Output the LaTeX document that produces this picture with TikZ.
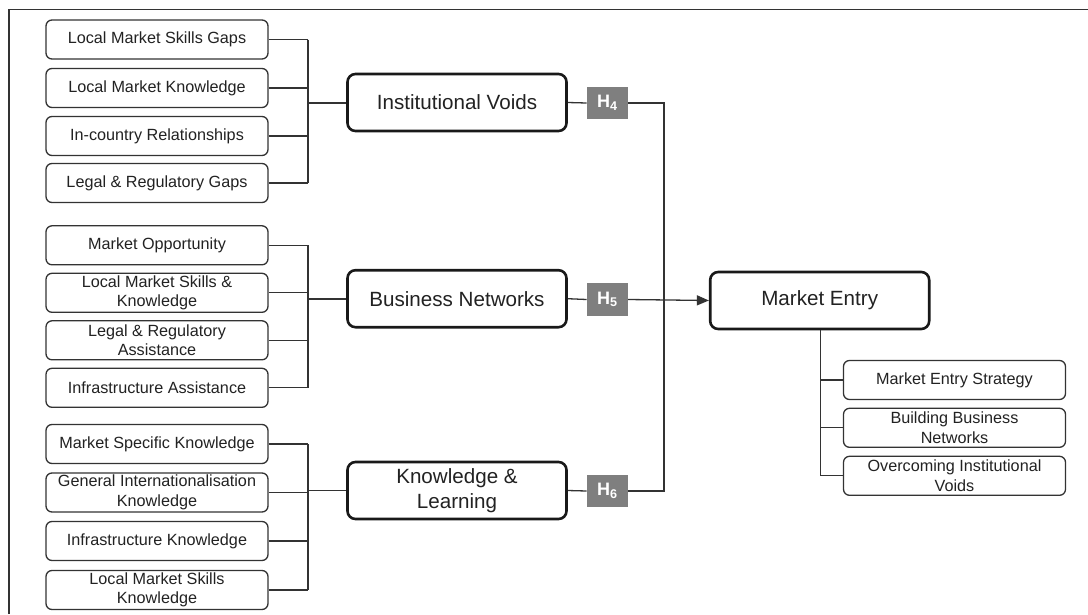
\documentclass[tikz,border=0pt]{standalone}
\usepackage{fontspec}
\setmainfont{Liberation Sans}
\usetikzlibrary{arrows.meta}
\definecolor{ink}{HTML}{222222}
\definecolor{wire}{HTML}{333333}
\definecolor{hbox}{HTML}{7F7F7F}
\tikzset{
  item/.style={draw=wire, line width=1.3pt, rounded corners=6pt, fill=white,
    minimum width=222pt, minimum height=39pt, inner sep=0pt, align=center,
    text=ink, font=\fontsize{16.2}{19.5}\selectfont},
  core/.style={draw=black!90, line width=2.6pt, rounded corners=8pt, fill=white,
    minimum width=219pt, minimum height=57pt, inner sep=0pt, align=center,
    text=ink, font=\fontsize{20.6}{24.5}\selectfont},
  hyp/.style={fill=hbox, minimum width=41pt, minimum height=32.5pt, inner sep=0pt,
    text=white, font=\fontsize{18}{20}\selectfont\bfseries},
  link/.style={draw=wire, line width=1.3pt},
  hub/.style={draw=wire, line width=2pt},
}
\begin{document}
\begin{tikzpicture}[x=1pt, y=-1pt]
\useasboundingbox (0,0) rectangle (1088,614);
% outer frame (top and left edges)
\draw[wire, line width=1.6pt] (9,614) -- (9,9.5) -- (1088,9.5);

% left-hand factor boxes
\node[item] (a1) at (157,39.5) {Local Market Skills Gaps};
\node[item] (a2) at (157,88) {Local Market Knowledge};
\node[item] (a3) at (157,136) {In-country Relationships};
\node[item] (a4) at (157,183) {Legal \& Regulatory Gaps};

\node[item] (b1) at (157,245.3) {Market Opportunity};
\node[item] (b2) at (157,292.8) {Local Market Skills \&\\Knowledge};
\node[item] (b3) at (157,340.3) {Legal \& Regulatory\\Assistance};
\node[item] (b4) at (157,387.8) {Infrastructure Assistance};

\node[item] (c1) at (157,444) {Market Specific Knowledge};
\node[item] (c2) at (157,492.5) {General Internationalisation\\Knowledge};
\node[item] (c3) at (157,541) {Infrastructure Knowledge};
\node[item] (c4) at (157,590) {Local Market Skills\\Knowledge};

% central constructs
\node[core] (iv) at (457,102.5) {Institutional Voids};
\node[core] (bn) at (457,298.7) {Business Networks};
\node[core] (kl) at (457,490.5) {Knowledge \&\\Learning};

% hypothesis tags
\node[hyp] (h4) at (607.3,103) {H\textsubscript{4}};
\node[hyp] (h5) at (607.3,299.5) {H\textsubscript{5}};
\node[hyp] (h6) at (607.3,491) {H\textsubscript{6}};

% outcome and its components
\node[core] (me) at (819.7,300.5) {Market Entry};
\node[item] (d1) at (954.5,380) {Market Entry Strategy};
\node[item] (d2) at (954.5,427.8) {Building Business\\Networks};
\node[item] (d3) at (954.5,475.8) {Overcoming Institutional\\Voids};

% bracket bars
\coordinate (barL) at (308,0);
\coordinate (barR) at (664,0);
\coordinate (barM) at (820.5,0);

% group 1 bracket
\foreach \n in {a1,a2,a3,a4} \draw[link] (\n.east) -- (\n.east -| barL);
\draw[link] (a1.east -| barL) -- (a4.east -| barL);
\draw[hub] (iv.west -| barL) -- (iv.west);

% group 2 bracket
\foreach \n in {b1,b2,b3,b4} \draw[link] (\n.east) -- (\n.east -| barL);
\draw[link] (b1.east -| barL) -- (b4.east -| barL);
\draw[hub] (bn.west -| barL) -- (bn.west);

% group 3 bracket
\foreach \n in {c1,c2,c3,c4} \draw[link] (\n.east) -- (\n.east -| barL);
\draw[link] (c1.east -| barL) -- (c4.east -| barL);
\draw[link] (kl.west -| barL) -- (kl.west);

% constructs to hypothesis tags
\draw[link] (iv.east) -- (h4.west);
\draw[link] (bn.east) -- (h5.west);
\draw[link] (kl.east) -- (h6.west);

% hypothesis tags to market entry
\draw[link] (h4.east) -- (h4.east -| barR) -- (h6.east -| barR) -- (h6.east);
\draw[link, -{Triangle[length=12pt, width=10pt]}] (h5.east) -- (me.west);

% market entry components
\draw[link] (me.south -| barM) -- (d3.west -| barM);
\foreach \n in {d1,d2,d3} \draw[link] (\n.west -| barM) -- (\n.west);
\end{tikzpicture}
\end{document}
